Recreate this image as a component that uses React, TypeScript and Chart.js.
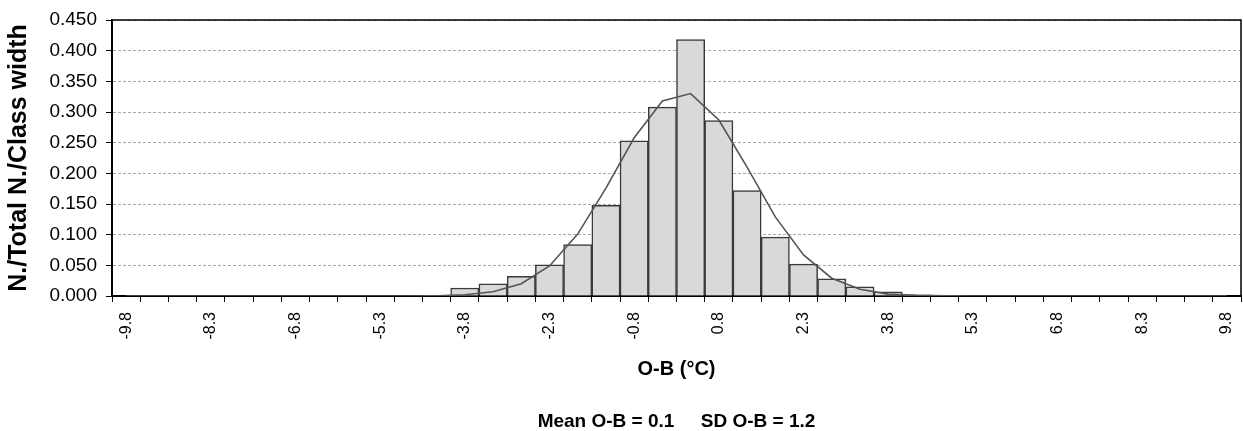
import React, { useEffect, useRef } from "react";
import { Chart, registerables } from "chart.js";

Chart.register(...registerables);

// Class centres (°C), shown rounded to one decimal as on the original axis
const classLabels: string[] = [
  "-9.8", "-9.3", "-8.8", "-8.3", "-7.8", "-7.3", "-6.8", "-6.3", "-5.8", "-5.3",
  "-4.8", "-4.3", "-3.8", "-3.3", "-2.8", "-2.3", "-1.8", "-1.3", "-0.8", "-0.3",
  "0.3", "0.8", "1.3", "1.8", "2.3", "2.8", "3.3", "3.8", "4.3", "4.8",
  "5.3", "5.8", "6.3", "6.8", "7.3", "7.8", "8.3", "8.8", "9.3", "9.8",
];

// Histogram: N / Total N / Class width
const observedDensity: number[] = [
  0, 0, 0, 0, 0, 0, 0, 0, 0, 0,
  0, 0.001, 0.013, 0.020, 0.032, 0.051, 0.084, 0.148, 0.253, 0.308,
  0.418, 0.286, 0.172, 0.096, 0.052, 0.028, 0.015, 0.007, 0.002, 0.001,
  0, 0, 0, 0, 0, 0, 0, 0, 0, 0,
];

// Fitted normal curve
const fittedCurve: number[] = [
  0, 0, 0, 0, 0, 0, 0, 0, 0, 0,
  0, 0.0005, 0.002, 0.007, 0.020, 0.049, 0.101, 0.176, 0.258, 0.318,
  0.330, 0.287, 0.210, 0.129, 0.067, 0.029, 0.011, 0.003, 0.001, 0.0002,
  0, 0, 0, 0, 0, 0, 0, 0, 0, 0,
];

const Y_MIN = 0;
const Y_MAX = 0.45;
const Y_STEP = 0.05;
const LABEL_EVERY = 3;

const xTitle = "O-B (°C)";
const yTitle = "N./Total N./Class width";
const statsText = "Mean O-B = 0.1     SD O-B = 1.2";

const FONT = "'Liberation Sans', Arial, Helvetica, sans-serif";

const framePlugin = {
  id: "frame",
  afterDraw(chart: any) {
    const { ctx, chartArea } = chart;
    const { left, top, right, bottom } = chartArea;
    ctx.save();
    ctx.strokeStyle = "#000";
    ctx.lineWidth = 1.5;
    ctx.beginPath();
    ctx.moveTo(left, top);
    ctx.lineTo(right, top);
    ctx.lineTo(right, bottom);
    ctx.stroke();
    ctx.restore();
  },
};

export default function App() {
  const ref = useRef<HTMLCanvasElement | null>(null);

  useEffect(() => {
    if (!ref.current) return;
    const chart = new Chart(ref.current, {
      type: "bar",
      data: {
        labels: classLabels,
        datasets: [
          {
            type: "line",
            data: fittedCurve,
            borderColor: "#555555",
            borderWidth: 1.6,
            pointRadius: 0,
            tension: 0,
            fill: false,
            order: 0,
          } as any,
          {
            type: "bar",
            data: observedDensity,
            backgroundColor: "#d9d9d9",
            borderColor: "#3a3a3a",
            borderWidth: 1.5,
            barPercentage: 1,
            categoryPercentage: 1,
            order: 1,
          },
        ],
      },
      options: {
        responsive: false,
        animation: false,
        devicePixelRatio: 1,
        layout: { padding: { left: 0, right: 2, top: 20, bottom: 0 } },
        plugins: {
          legend: { display: false },
          tooltip: { enabled: false },
          title: {
            display: true,
            position: "bottom",
            fullSize: false,
            text: statsText,
            color: "#000",
            font: { family: FONT, size: 19, weight: "bold", lineHeight: 1 },
            padding: { top: 31, bottom: 0 },
          },
        },
        scales: {
          x: {
            offset: true,
            grid: {
              display: true,
              offset: true,
              drawOnChartArea: false,
              drawTicks: true,
              tickLength: 6,
              tickColor: "#000",
              color: "#000",
            },
            border: { display: true, color: "#000", width: 2 },
            ticks: {
              autoSkip: false,
              minRotation: 90,
              maxRotation: 90,
              padding: 10,
              color: "#000",
              font: { family: FONT, size: 16 },
              callback: (_v: any, i: number) =>
                i % LABEL_EVERY === 0 ? classLabels[i] : "",
            },
            title: {
              display: true,
              text: xTitle,
              color: "#000",
              font: { family: FONT, size: 20, weight: "bold", lineHeight: 1.2 },
              padding: { top: 0, bottom: 0 },
            },
            afterFit: (axis: any) => {
              axis.height = 85;
              axis.paddingLeft = 0;
              axis.paddingRight = 0;
            },
          },
          y: {
            min: Y_MIN,
            max: Y_MAX,
            grid: {
              color: "#a8a8a8",
              lineWidth: 1,
              tickLength: 6,
              tickColor: "#000",
            },
            border: { display: true, color: "#000", width: 2, dash: [3, 2] },
            ticks: {
              stepSize: Y_STEP,
              padding: 9,
              color: "#000",
              font: { family: FONT, size: 19 },
              callback: (v: any) => Number(v).toFixed(3),
            },
            title: {
              display: true,
              text: yTitle,
              color: "#000",
              font: { family: FONT, size: 25, weight: "bold", lineHeight: 1.2 },
              padding: { top: 4, bottom: 0 },
            },
            afterFit: (axis: any) => {
              axis.width = 112;
              axis.paddingTop = 0;
              axis.paddingBottom = 0;
            },
          },
        },
      },
      plugins: [framePlugin],
    });
    return () => chart.destroy();
  }, []);

  return (
    <div style={{ position: "absolute", left: 0, top: 0, width: 1243, height: 431, background: "#fff" }}>
      <canvas ref={ref} width={1243} height={431} style={{ display: "block" }} />
    </div>
  );
}
